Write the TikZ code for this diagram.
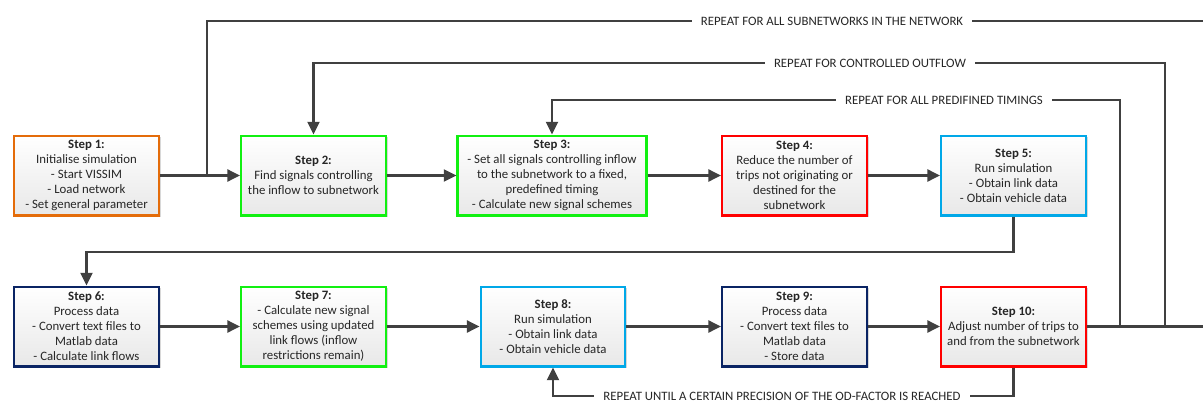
\documentclass[tikz,border=0pt]{standalone}
\usepackage{fontspec}
\setmainfont{Carlito}
\usetikzlibrary{arrows.meta,shadows}
\definecolor{lineg}{HTML}{404040}
\definecolor{corange}{HTML}{E46C0A}
\definecolor{cgreen}{HTML}{11F011}
\definecolor{cred}{HTML}{FF0000}
\definecolor{cblue}{HTML}{00A8E8}
\definecolor{cnavy}{HTML}{0A2464}
\definecolor{ctext}{HTML}{262626}
\begin{document}
\begin{tikzpicture}[x=0.75pt,y=-0.75pt,
  box/.style={draw, line width=1.6pt, minimum width=108.6pt, minimum height=59.9pt,
    align=center, font=\fontsize{9.6}{11.2}\selectfont, text=ctext, inner sep=2pt,
    top color=white, bottom color=black!9,
    drop shadow={shadow xshift=1.3pt, shadow yshift=-1.3pt, fill=black!30, opacity=0.5}},
  wide/.style={minimum width=141.7pt},
  conn/.style={draw=lineg, line width=1.7pt},
  arr/.style={conn, -{Triangle[length=9.5pt,width=9pt]}},
  lbl/.style={fill=white, font=\fontsize{9.6}{11}\selectfont, text=ctext, inner xsep=7pt, inner ysep=1pt}
]
\useasboundingbox (0,0) rectangle (1203,403);
\clip (0,0) rectangle (1203,403);

% boxes row 1
\node[box, draw=corange] (s1) at (86.5,175.5) {\textbf{Step 1:}\\Initialise simulation\\- Start VISSIM\\- Load network\\- Set general parameter};
\node[box, draw=cgreen] (s2) at (313.5,175.5) {\textbf{Step 2:}\\Find signals controlling\\the inflow to subnetwork};
\node[box, wide, draw=cgreen] (s3) at (552,175.5) {\textbf{Step 3:}\\- Set all signals controlling inflow\\to the subnetwork to a fixed,\\predefined timing\\- Calculate new signal schemes};
\node[box, draw=cred] (s4) at (794.5,175.5) {\textbf{Step 4:}\\Reduce the number of\\trips not originating or\\destined for the\\subnetwork};
\node[box, draw=cblue] (s5) at (1013.5,175.5) {\textbf{Step 5:}\\Run simulation\\- Obtain link data\\- Obtain vehicle data};
% boxes row 2
\node[box, draw=cnavy] (s6) at (86.5,326.5) {\textbf{Step 6:}\\Process data\\- Convert text files to\\Matlab data\\- Calculate link flows};
\node[box, draw=cgreen] (s7) at (313.5,326.5) {\textbf{Step 7:}\\- Calculate new signal\\schemes using updated\\link flows (inflow\\restrictions remain)};
\node[box, draw=cblue] (s8) at (553,326.5) {\textbf{Step 8:}\\Run simulation\\- Obtain link data\\- Obtain vehicle data};
\node[box, draw=cnavy] (s9) at (794.5,326.5) {\textbf{Step 9:}\\Process data\\- Convert text files to\\Matlab data\\- Store data};
\node[box, draw=cred] (s10) at (1013.5,326.5) {\textbf{Step 10:}\\Adjust number of trips to\\and from the subnetwork};

% coordinates
\coordinate (oR) at (1215,326.5);
\coordinate (oT) at (1215,21);
\coordinate (oL) at (207,21);
\coordinate (oJ) at (207,175.5);
\coordinate (mB) at (1165,326.5);
\coordinate (mR) at (1165,63);
\coordinate (mL) at (313.5,63);
\coordinate (iB) at (1120,326.5);
\coordinate (iR) at (1120,100);
\coordinate (iL) at (552,100);
\coordinate (a1) at (1013.5,252);
\coordinate (a2) at (86.5,252);
\coordinate (b1) at (1013.5,396);
\coordinate (b2) at (553,396);

% straight connectors
\draw[arr] (s1) -- (s2);
\draw[arr] (s2) -- (s3);
\draw[arr] (s3) -- (s4);
\draw[arr] (s4) -- (s5);
\draw[arr] (s6) -- (s7);
\draw[arr] (s7) -- (s8);
\draw[arr] (s8) -- (s9);
\draw[arr] (s9) -- (s10);

% loops
\draw[arr] (s5.south) -- (a1) -- (a2) -- (s6.north);
\draw[conn] (s10.east) -- (oR) -- (oT) -- (oL) -- (oJ);
\draw[arr] (mB) -- (mR) -- (mL) -- (s2.north);
\draw[arr] (iB) -- (iR) -- (iL) -- (s3.north);
\draw[arr] (s10.south) -- (b1) -- (b2) -- (s8.south);

% labels
\node[lbl] (l1) at (832,21) {REPEAT FOR ALL SUBNETWORKS IN THE NETWORK};
\node[lbl] (l2) at (870,63) {REPEAT FOR CONTROLLED OUTFLOW};
\node[lbl] (l3) at (944,100) {REPEAT FOR ALL PREDIFINED TIMINGS};
\node[lbl] (l4) at (782,396) {REPEAT UNTIL A CERTAIN PRECISION OF THE OD-FACTOR IS REACHED};
\end{tikzpicture}
\end{document}
